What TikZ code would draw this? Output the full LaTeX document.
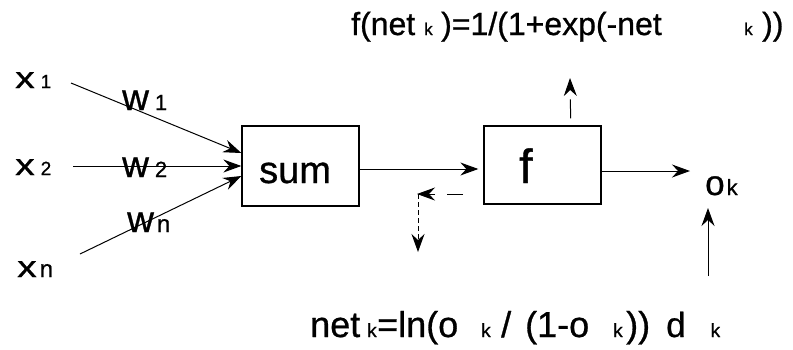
\documentclass[tikz,border=0pt]{standalone}
\usepackage{fontspec}
\setmainfont{Liberation Sans}[FakeBold=0.8]
\usetikzlibrary{arrows.meta}
\newcommand{\fs}[1]{\fontsize{#1}{#1}\selectfont}
\newcommand{\bigx}{\scalebox{1.3}[1]{\fs{30}x}}
\begin{document}
\begin{tikzpicture}[x=1pt,y=-1pt,
  box/.style={draw, line width=1.3pt, inner sep=0pt, minimum width=117pt},
  txt/.style={inner sep=0pt, anchor=base west},
  arr/.style={line width=1pt, -{Stealth[length=18pt,width=13pt,inset=6pt]}},
  dasharr/.style={arr, dash pattern=on 16pt off 12pt},
  dotarr/.style={arr, dash pattern=on 5pt off 3pt}]
\fill[white] (0,0) rectangle (793,349);
\useasboundingbox (0,0) rectangle (793,349);
% boxes
\node[box, minimum height=80pt] (sum) at (300.5,166) {};
\node[box, minimum height=78pt] (f) at (542.5,165) {};
\node[txt] (sumtxt) at (259,183) {\fs{38}sum};
\node[txt] (ftxt) at (519,183) {\fs{48}f};
% input labels
\node[txt] (x1) at (15,88) {\bigx\hspace{6pt}\fs{19}1};
\node[txt] (x2) at (15,175) {\bigx\hspace{6pt}\fs{19}2};
\node[txt] (xn) at (17,277) {\bigx\hspace{3pt}\fs{24}n};
\node[txt] (w1) at (122,110) {\fs{37}w\hspace{6pt}\fs{22}1};
\node[txt] (w2) at (122,177) {\fs{37}w\hspace{6pt}\fs{22}2};
\node[txt] (wn) at (127,232) {\fs{37}w\hspace{3pt}\fs{24}n};
% input connectors
\coordinate (x1s) at (71,83);
\coordinate (x2s) at (73,166);
\coordinate (xns) at (80,254);
\draw[arr] (x1s) -- ([yshift=13pt]sum.west);
\draw[arr] (x2s) -- (sum.west);
\draw[arr] (xns) -- ([yshift=-10pt]sum.west);
% sum -> f
\draw[arr, shorten >=5pt] ([yshift=-3pt]sum.east) -- ([yshift=-4pt]f.west);
% output
\coordinate (outend) at (690,171);
\draw[arr] ([yshift=-6pt]f.east) -- (outend);
\node[txt] (ok) at (705,195) {\fs{35}o\hspace{2pt}\fs{22}k};
% dashed up arrow
\coordinate (upend) at (570,78);
\draw[dasharr, dash pattern=on 19pt off 10pt] ([xshift=-31pt,yshift=7pt]f.north east) -- (upend);
% dashed back arrows
\coordinate (bkstart) at (463,194);
\coordinate (bkend) at (417,194);
\coordinate (corner) at (418,194);
\coordinate (dnend) at (418,252);
\draw[dasharr] (bkstart) -- (bkend);
\draw[dotarr] (corner) -- (dnend);
% target arrow
\coordinate (dks) at (708,276);
\coordinate (dke) at (708,208);
\draw[arr] (dks) -- (dke);
% formulas
\node[txt] (topf) at (351,35) {\fs{32}\makebox[73pt][l]{f(net}\makebox[17pt][l]{\fs{17}k}\makebox[303pt][l]{)=1/(1+exp(-net}\makebox[18pt][l]{\fs{17}k}))};
\node[txt] (botf) at (310,337) {\fs{36}\makebox[57pt][l]{net}\makebox[10pt][l]{\fs{19}k}\makebox[104pt][l]{=ln(o}\makebox[20pt][l]{\fs{19}k}\makebox[24pt][l]{/}\makebox[88pt][l]{(1-o}\makebox[13pt][l]{\fs{19}k}))};
\node[txt] (dk) at (666,337) {\fs{35}d\hspace{25pt}\fs{19}k};
\end{tikzpicture}
\end{document}
